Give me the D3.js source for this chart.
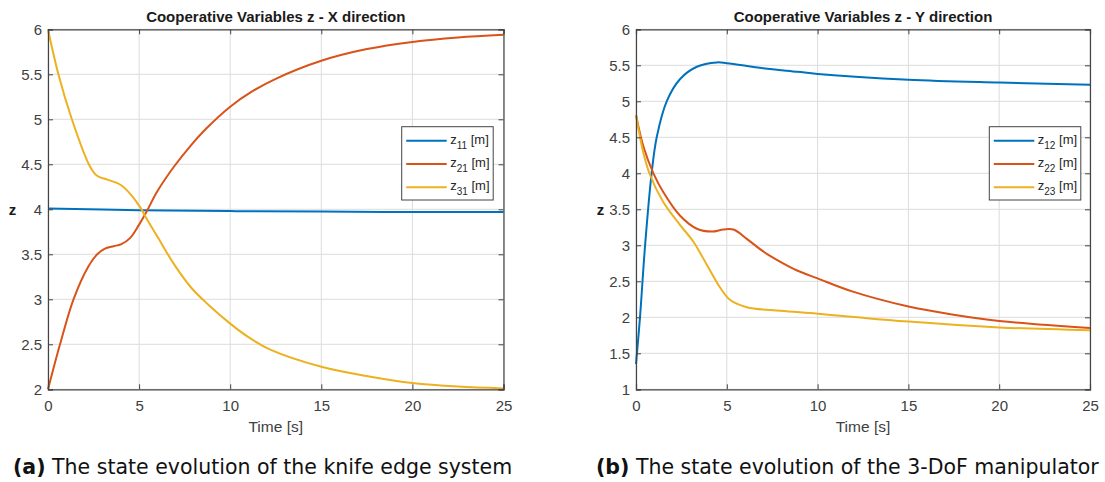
<!DOCTYPE html>
<html>
<head>
<meta charset="utf-8">
<script src="https://cdn.jsdelivr.net/npm/d3@7"></script>
<style>
  body { margin: 0; background: #fff; }
  svg { display: block; }
</style>
</head>
<body>
<svg id="chart" width="1105" height="482"></svg>
<script>
// values (time [s] / z [m])
var xTicks = [0, 5, 10, 15, 20, 25];
var yTicksX = [2, 2.5, 3, 3.5, 4, 4.5, 5, 5.5, 6];
var yTicksY = [1, 1.5, 2, 2.5, 3, 3.5, 4, 4.5, 5, 5.5, 6];

// X direction
var tZ11 = [0, 5, 10, 15, 20, 25];
var vZ11 = [4.01, 3.99, 3.98, 3.975, 3.97, 3.97];
var tZ21 = [0, 0.66, 1.4, 2.2, 2.7, 3.1, 3.6, 4.0, 4.5, 5.0, 5.4, 6.0, 6.9, 7.8, 8.7, 10, 11.2, 12.5, 15, 17.5, 20, 22.5, 25];
var vZ21 = [2, 2.5, 3.0, 3.36, 3.5, 3.56, 3.59, 3.61, 3.68, 3.83, 3.97, 4.2, 4.47, 4.7, 4.9, 5.14, 5.31, 5.45, 5.65, 5.78, 5.86, 5.91, 5.94];
var tZ31 = [0, 0.57, 1.31, 2.24, 2.55, 2.8, 3.26, 4.0, 4.56, 5.1, 5.4, 6.05, 6.95, 7.9, 8.8, 10, 11, 12.2, 15, 17.7, 20, 22.5, 25];
var vZ31 = [6, 5.5, 5.0, 4.5, 4.4, 4.36, 4.33, 4.27, 4.16, 4.01, 3.9, 3.68, 3.38, 3.12, 2.94, 2.73, 2.58, 2.44, 2.25, 2.14, 2.07, 2.03, 2.01];

// Y direction
var tZ12 = [0, 0.22, 0.5, 0.86, 1.14, 1.69, 2.43, 3.35, 4.45, 5, 7, 8.9, 10, 15, 20, 25];
var vZ12 = [1.35, 2.0, 3.0, 4.0, 4.5, 5.0, 5.31, 5.48, 5.54, 5.53, 5.46, 5.41, 5.38, 5.3, 5.26, 5.23];
var tZ22 = [0, 0.4, 0.96, 1.5, 2.43, 3.35, 4.18, 4.82, 5.37, 6.1, 7.03, 7.95, 8.87, 10, 11.9, 15, 17.4, 20, 25];
var vZ22 = [4.81, 4.38, 4.0, 3.74, 3.41, 3.23, 3.19, 3.22, 3.22, 3.09, 2.91, 2.77, 2.65, 2.54, 2.36, 2.15, 2.04, 1.95, 1.85];
var tZ23 = [0, 0.4, 0.77, 1.5, 2.43, 3.16, 3.9, 4.64, 5.19, 6.1, 7.95, 10, 15, 20, 25];
var vZ23 = [4.81, 4.29, 3.98, 3.6, 3.28, 3.05, 2.73, 2.41, 2.24, 2.14, 2.09, 2.05, 1.94, 1.86, 1.82];

var colors = ["#0072BD", "#D95319", "#EDB120"];

var svg = d3.select("#chart");
var tickFont = "'Liberation Sans', Arial, sans-serif";

function zip(ts, vs) {
  return ts.map(function (t, i) { return [t, vs[i]]; });
}

function drawPanel(cfg) {
  var g = svg.append("g");
  var x = d3.scaleLinear().domain([0, 25]).range([cfg.left, cfg.right]);
  var y = d3.scaleLinear().domain(cfg.yDomain).range([389.3, 29.3]);

  // grid
  g.append("g").selectAll("line").data(xTicks).enter().append("line")
    .attr("x1", function (d) { return x(d); }).attr("x2", function (d) { return x(d); })
    .attr("y1", y.range()[0]).attr("y2", y.range()[1])
    .attr("stroke", "#dcdcdc").attr("stroke-width", 1);
  g.append("g").selectAll("line").data(cfg.yTicks).enter().append("line")
    .attr("x1", cfg.left).attr("x2", cfg.right)
    .attr("y1", function (d) { return y(d); }).attr("y2", function (d) { return y(d); })
    .attr("stroke", "#dcdcdc").attr("stroke-width", 1);

  // lines
  var line = d3.line()
    .x(function (d) { return x(d[0]); })
    .y(function (d) { return y(d[1]); })
    .curve(d3.curveCatmullRom.alpha(0.5));
  cfg.series.forEach(function (s, i) {
    g.append("path").datum(s.data)
      .attr("fill", "none")
      .attr("stroke", colors[i])
      .attr("stroke-width", 2)
      .attr("d", line);
  });

  // axes: ticks inside, on all four sides
  var ax = [
    d3.axisBottom(x).tickValues(xTicks).tickSize(-5).tickPadding(11),
    d3.axisTop(x).tickValues(xTicks).tickSize(-5).tickFormat(""),
    d3.axisLeft(y).tickValues(cfg.yTicks).tickSize(-5).tickPadding(6).tickFormat(d3.format("~g")),
    d3.axisRight(y).tickValues(cfg.yTicks).tickSize(-5).tickFormat("")
  ];
  var pos = [
    "translate(0," + y.range()[0] + ")",
    "translate(0," + y.range()[1] + ")",
    "translate(" + cfg.left + ",0)",
    "translate(" + cfg.right + ",0)"
  ];
  ax.forEach(function (a, i) {
    var ga = g.append("g").attr("transform", pos[i]).call(a);
    ga.select(".domain").attr("stroke", "#444").attr("stroke-width", 1.2);
    ga.selectAll(".tick line").attr("stroke", "#444");
    ga.selectAll(".tick text").attr("fill", "#404040")
      .style("font-family", tickFont).style("font-size", "15px");
  });

  var mid = (cfg.left + cfg.right) / 2;
  g.append("text").attr("x", mid).attr("y", 21.5)
    .attr("text-anchor", "middle")
    .style("font-family", tickFont).style("font-size", "15px").style("font-weight", "bold")
    .attr("fill", "#1a1a1a")
    .text(cfg.title);
  g.append("text").attr("x", mid).attr("y", 432)
    .attr("text-anchor", "middle")
    .style("font-family", tickFont).style("font-size", "15.5px")
    .attr("fill", "#404040")
    .text("Time [s]");
  g.append("text").attr("x", cfg.zlabelX).attr("y", 215)
    .attr("text-anchor", "middle")
    .style("font-family", tickFont).style("font-size", "15px").style("font-weight", "bold")
    .attr("fill", "#1a1a1a")
    .text("z");

  // legend
  var lg = g.append("g").attr("transform", "translate(" + cfg.legendX + ",126.7)");
  lg.append("rect").attr("width", 91.5).attr("height", 73.3)
    .attr("fill", "#fff").attr("stroke", "#444").attr("stroke-width", 1);
  cfg.series.forEach(function (s, i) {
    var yy = 14 + i * 23.3;
    lg.append("line").attr("x1", 4.5).attr("x2", 45).attr("y1", yy).attr("y2", yy)
      .attr("stroke", colors[i]).attr("stroke-width", 2);
    var t = lg.append("text").attr("x", 48.5).attr("y", yy + 3)
      .style("font-family", tickFont).style("font-size", "13px").attr("fill", "#262626");
    t.append("tspan").text("z");
    t.append("tspan").attr("dy", 5).style("font-size", "10px").text(s.sub);
    t.append("tspan").attr("dy", -5).text(" [m]");
  });

  // caption
  var cap = svg.append("text").attr("x", cfg.capX).attr("y", 474)
    .style("font-family", "'DejaVu Sans', sans-serif").style("font-size", "20.5px")
    .attr("fill", "#111");
  cap.append("tspan").style("font-weight", "bold").text(cfg.capTag);
  cap.append("tspan").text(" " + cfg.caption);
}

drawPanel({
  left: 48, right: 503.5, yDomain: [2, 6], yTicks: yTicksX,
  title: "Cooperative Variables z - X direction",
  zlabelX: 12.5, legendX: 401.7, capX: 13,
  capTag: "(a)", caption: "The state evolution of the knife edge system",
  series: [
    { sub: "11", data: zip(tZ11, vZ11) },
    { sub: "21", data: zip(tZ21, vZ21) },
    { sub: "31", data: zip(tZ31, vZ31) }
  ]
});

drawPanel({
  left: 636, right: 1090, yDomain: [1, 6], yTicks: yTicksY,
  title: "Cooperative Variables z - Y direction",
  zlabelX: 600.5, legendX: 989.3, capX: 596,
  capTag: "(b)", caption: "The state evolution of the 3-DoF manipulator",
  series: [
    { sub: "12", data: zip(tZ12, vZ12) },
    { sub: "22", data: zip(tZ22, vZ22) },
    { sub: "23", data: zip(tZ23, vZ23) }
  ]
});
</script>
</body>
</html>
